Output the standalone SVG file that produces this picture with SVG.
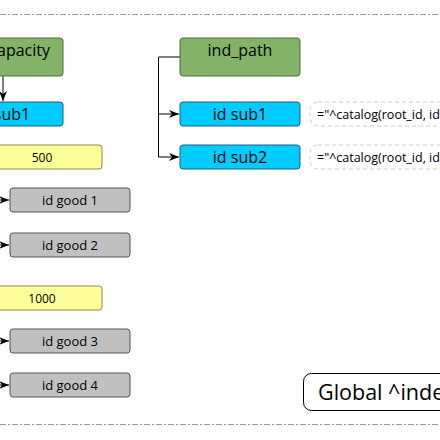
<svg xmlns="http://www.w3.org/2000/svg" width="440" height="440" viewBox="0 0 440 440">
<defs>
<style>
.t{font-family:"Open Sans","Noto Sans","DejaVu Sans",sans-serif;fill:#000;text-anchor:middle}
.green{fill:#82b366;stroke:#4f6e42;stroke-width:1}
.blue{fill:#00ccff;stroke:#1a5f80;stroke-width:1}
.yellow{fill:#ffff99;stroke:#8a8a50;stroke-width:1}
.gray{fill:#c0c0c0;stroke:#555;stroke-width:1}
.note{fill:#fff;stroke:#cccccc;stroke-width:1;stroke-dasharray:4 3}
.sep{stroke:#9a9a9a;stroke-width:1;stroke-dasharray:6 2 2 2;fill:none}
.conn{fill:none;stroke:#000;stroke-width:1}
</style>
<marker id="arr" viewBox="0 0 10 10" refX="10" refY="5" markerWidth="10" markerHeight="10" markerUnits="userSpaceOnUse" orient="auto">
<path d="M0,1 L10,5 L0,9 L3,5 Z" fill="#000"/>
</marker>
</defs>
<rect width="440" height="440" fill="#fff"/>
<line class="sep" x1="0" y1="14.5" x2="440" y2="14.5"/>
<line class="sep" x1="0" y1="424.5" x2="440" y2="424.5"/>

<g id="connectors">
<path class="conn" d="M3,76 L3,101" marker-end="url(#arr)"/>
<path class="conn" d="M180,57 L158.5,57 L158.5,157 L179,157" marker-end="url(#arr)"/>
<path class="conn" d="M158.5,114 L179,114" marker-end="url(#arr)"/>
<path class="conn" d="M-20,200 L9,200" marker-end="url(#arr)"/>
<path class="conn" d="M-20,245 L9,245" marker-end="url(#arr)"/>
<path class="conn" d="M-20,341 L9,341" marker-end="url(#arr)"/>
<path class="conn" d="M-20,385 L9,385" marker-end="url(#arr)"/>
</g>

<g id="capacity">
<rect class="green" x="-57" y="38" width="120" height="38" rx="3"/>
<text class="t" x="50" y="56" font-size="16" style="text-anchor:end">capacity</text>
</g>
<g id="sub1-left">
<rect class="blue" x="-57" y="102" width="120" height="24" rx="3"/>
<text class="t" x="3" y="119.5" font-size="16">id sub1</text>
</g>
<g id="y500">
<rect class="yellow" x="-18" y="145" width="120" height="24" rx="3"/>
<text class="t" x="42" y="161.5" font-size="12">500</text>
</g>
<g id="good1">
<rect class="gray" x="10" y="188" width="120" height="24" rx="3"/>
<text class="t" x="70" y="204.5" font-size="13">id good 1</text>
</g>
<g id="good2">
<rect class="gray" x="10" y="233" width="120" height="24" rx="3"/>
<text class="t" x="70" y="249.5" font-size="13">id good 2</text>
</g>
<g id="y1000">
<rect class="yellow" x="-18" y="286" width="120" height="24" rx="3"/>
<text class="t" x="42" y="302.5" font-size="12">1000</text>
</g>
<g id="good3">
<rect class="gray" x="10" y="329" width="120" height="24" rx="3"/>
<text class="t" x="70" y="345.5" font-size="13">id good 3</text>
</g>
<g id="good4">
<rect class="gray" x="10" y="373" width="120" height="24" rx="3"/>
<text class="t" x="70" y="389.5" font-size="13">id good 4</text>
</g>

<g id="ind_path">
<rect class="green" x="180" y="38" width="120" height="38" rx="3"/>
<text class="t" x="240" y="56" font-size="16">ind_path</text>
</g>
<g id="sub1">
<rect class="blue" x="180" y="102" width="120" height="24" rx="3"/>
<text class="t" x="240" y="119.5" font-size="16">id sub1</text>
</g>
<g id="sub2">
<rect class="blue" x="180" y="145" width="120" height="24" rx="3"/>
<text class="t" x="240" y="162.5" font-size="16">id sub2</text>
</g>
<g id="note1">
<rect class="note" x="310" y="102" width="150" height="24" rx="8"/>
<text class="t" x="317" y="118.5" font-size="12.5" style="text-anchor:start">="^catalog(root_id, id</text>
</g>
<g id="note2">
<rect class="note" x="310" y="145" width="150" height="24" rx="8"/>
<text class="t" x="317" y="161.5" font-size="12.5" style="text-anchor:start">="^catalog(root_id, id</text>
</g>
<g id="global">
<rect x="303.5" y="373.5" width="160" height="37" rx="8" fill="#fff" stroke="#000" stroke-width="1"/>
<text class="t" x="318" y="400" font-size="21.5" style="text-anchor:start">Global ^index</text>
</g>
</svg>
